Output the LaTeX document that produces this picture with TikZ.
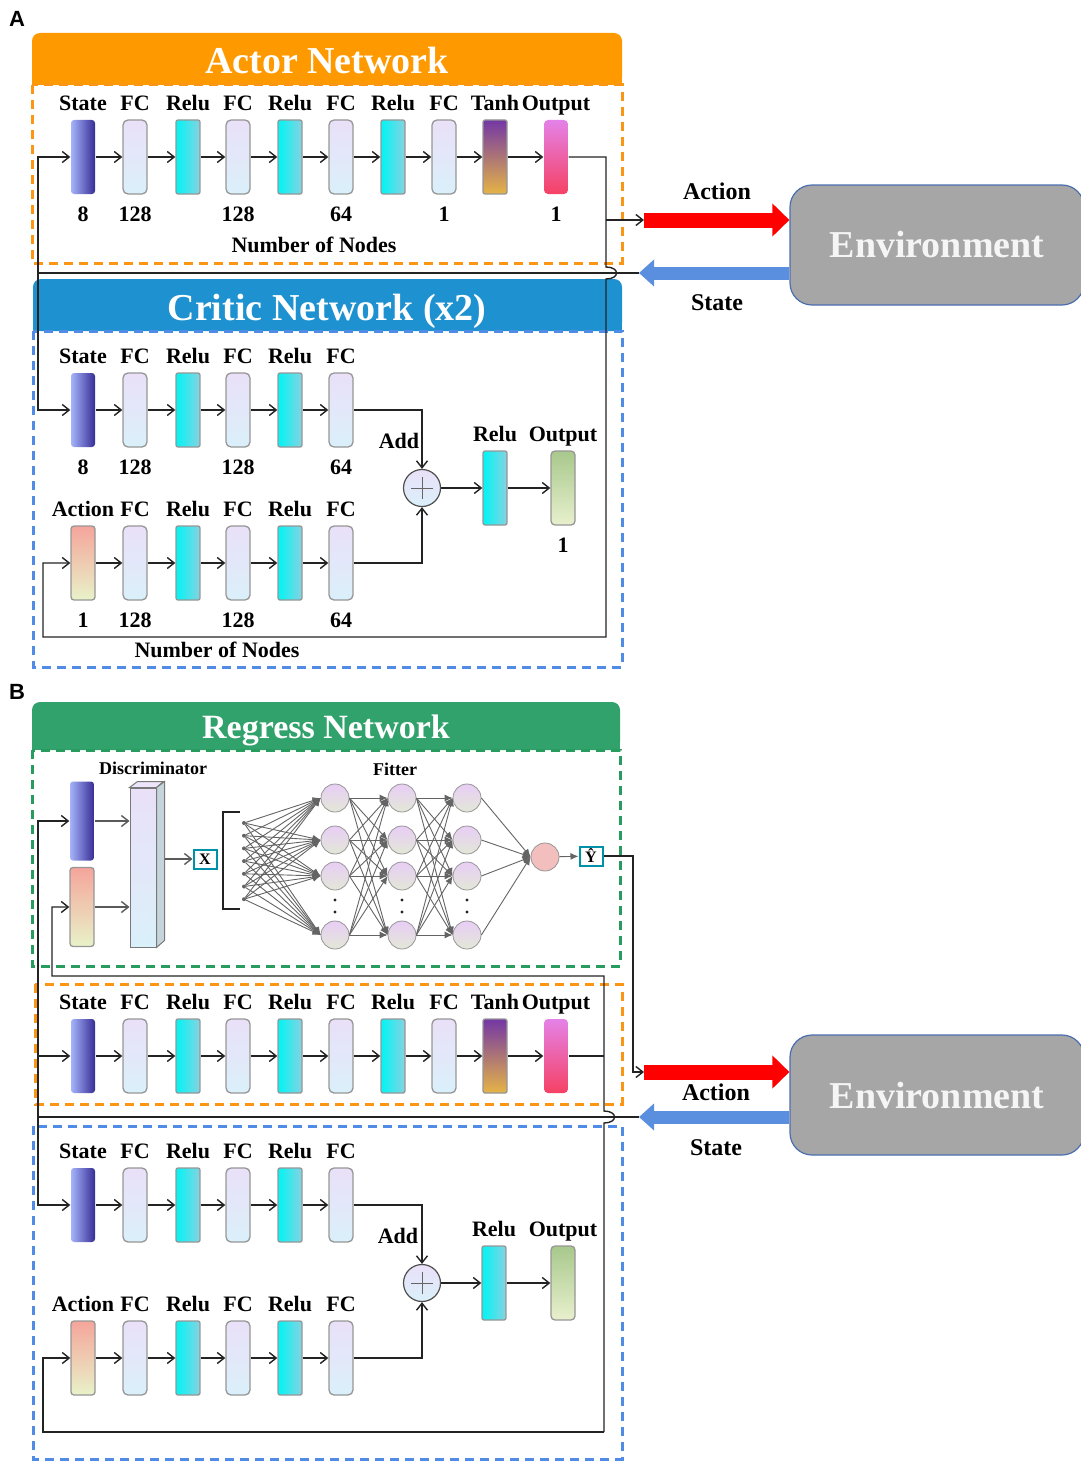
\documentclass[tikz,border=0pt]{standalone}
\usepackage{fontspec}
\setmainfont{Liberation Serif}
\newfontfamily\panelfont{Liberation Sans}
\usetikzlibrary{arrows.meta,calc,positioning}

\definecolor{actcol}{RGB}{255,153,0}
\definecolor{crtcol}{RGB}{30,146,208}
\definecolor{regcol}{RGB}{50,162,108}
\definecolor{envcol}{RGB}{166,166,166}
\definecolor{envbdr}{RGB}{75,110,175}
\definecolor{actred}{RGB}{255,0,0}
\definecolor{stblue}{RGB}{90,142,222}
\definecolor{dshblue}{RGB}{80,140,230}
\definecolor{dshgreen}{RGB}{40,155,95}
\definecolor{dshorange}{RGB}{250,150,20}
\definecolor{bdr}{RGB}{150,150,150}
\definecolor{wcol}{RGB}{35,35,35}
\definecolor{syncol}{RGB}{100,100,100}
\definecolor{xcol}{RGB}{0,145,170}
\definecolor{stL}{RGB}{165,180,250}
\definecolor{stR}{RGB}{55,45,150}
\definecolor{fcT}{RGB}{234,224,248}
\definecolor{fcB}{RGB}{218,240,250}
\definecolor{rlL}{RGB}{0,245,245}
\definecolor{rlR}{RGB}{135,210,225}
\definecolor{thT}{RGB}{115,55,165}
\definecolor{thB}{RGB}{230,180,70}
\definecolor{otT}{RGB}{228,130,232}
\definecolor{otB}{RGB}{245,65,100}
\definecolor{acT}{RGB}{245,165,155}
\definecolor{acB}{RGB}{232,242,200}
\definecolor{qT}{RGB}{168,200,140}
\definecolor{qB}{RGB}{232,240,205}
\definecolor{nuT}{RGB}{232,205,245}
\definecolor{nuB}{RGB}{226,232,215}
\definecolor{nuout}{RGB}{242,190,190}

\newcommand{\lbfont}{\fontsize{22}{24}\selectfont\bfseries}

\tikzset{
    >={Straight Barb[length=7pt,width=11pt]},
    wire/.style={draw=wcol, line width=1.4pt},
    arr/.style={wire, ->},
    blk/.style={rectangle, minimum width=24pt, minimum height=74pt, inner sep=0pt, line width=1.3pt},
    statebk/.style={blk, rounded corners=3pt, left color=stL, right color=stR},
    fcbk/.style={blk, rounded corners=5pt, draw=bdr, top color=fcT, bottom color=fcB},
    relubk/.style={blk, rounded corners=2pt, draw=bdr, left color=rlL, right color=rlR},
    tanhbk/.style={blk, rounded corners=2pt, draw=bdr, top color=thT, bottom color=thB},
    outbk/.style={blk, rounded corners=4pt, top color=otT, bottom color=otB},
    actbk/.style={blk, rounded corners=3pt, draw=bdr, top color=acT, bottom color=acB},
    qbk/.style={blk, rounded corners=4pt, draw=bdr, top color=qT, bottom color=qB},
    addnd/.style={circle, draw=wcol!80, line width=1.2pt, minimum size=37pt, inner sep=0pt, top color=fcT, bottom color=fcB},
    every label/.style={font=\lbfont, inner sep=0pt, text height=15pt, text depth=0pt},
    label distance=9pt,
    txt/.style={font=\lbfont, anchor=base, inner sep=0pt},
    big/.style={font=\fontsize{24}{26}\selectfont\bfseries},
    hdtxt/.style={text=white, font=\fontsize{38}{40}\selectfont\bfseries, anchor=base, inner sep=0pt},
    frm/.style={dash pattern=on 9pt off 6pt, line width=3pt},
    env/.style={rectangle, rounded corners=22pt, fill=envcol, draw=envbdr, line width=1.2pt, minimum width=294pt, minimum height=120pt, text=white!96!black, font=\fontsize{38}{40}\selectfont\bfseries},
    act/.style={actred, line width=15pt, -{Triangle[length=17pt,width=32pt]}},
    stt/.style={stblue, line width=13pt, -{Triangle[length=15pt,width=26pt]}},
    neu/.style={circle, draw=bdr, line width=0.8pt, minimum size=28pt, inner sep=0pt, top color=nuT, bottom color=nuB},
    syn/.style={draw=syncol, line width=0.9pt, -{Latex[length=8pt,width=7pt]}},
    dotnd/.style={circle, fill=syncol, minimum size=4pt, inner sep=0pt},
    xbox/.style={rectangle, draw=xcol, line width=2pt, fill=white, minimum width=23pt, minimum height=19pt, inner sep=1pt, font=\fontsize{16}{18}\selectfont\bfseries},
    pnl/.style={font=\panelfont\fontsize{22}{24}\selectfont\bfseries, anchor=base, inner sep=0pt}
}

\begin{document}
\begin{tikzpicture}[x=1pt, y=-1pt]
\useasboundingbox (0,0) rectangle (1081,1461);
\clip (0,0) rectangle (1081,1461);

%%% A
\node[pnl] (pa) at (17,27) {A};

% actor
\fill[actcol, rounded corners=8pt] (32,33) rectangle (622,85);
\fill[actcol] (32,60) rectangle (622,85);
\node[hdtxt] (h1) at (327,74) {Actor Network};
\draw[dshorange, frm] (32,85) rectangle (622,263);

\foreach \i/\x/\s/\t/\m in {1/83/statebk/State/8, 2/135/fcbk/FC/128, 3/188/relubk/Relu/{}, 4/238/fcbk/FC/128, 5/290/relubk/Relu/{}, 6/341/fcbk/FC/64, 7/393/relubk/Relu/{}, 8/444/fcbk/FC/1, 9/495/tanhbk/Tanh/{}, 10/556/outbk/Output/1}
    \node[\s, label=above:\t, label={[yshift=-3pt]below:\m}] (a\i) at (\x,157) {};
\foreach \i [count=\j from 2] in {1,...,9}
    \draw[arr] (a\i) -- (a\j);
\node[txt] (nn1) at (314,252) {Number of Nodes};

% environment
\node[env] (env1) at (937,245) {Environment};
\coordinate (ac1) at (644,220);
\coordinate (s1) at (639,273);
\draw[act] (ac1) -- (env1.west |- ac1);
\draw[stt] (env1.west |- s1) -- (s1);
\node[txt, big] (la1) at (717,199) {Action};
\node[txt, big] (ls1) at (717,310) {State};

% critic
\fill[crtcol, rounded corners=8pt] (33,279) rectangle (622,331);
\fill[crtcol] (33,305) rectangle (622,331);
\node[hdtxt] (h2) at (327,320) {Critic Network (x2)};
\draw[dshblue, frm] (33,331) rectangle (622,667);

\foreach \i/\x/\s/\t/\m in {1/83/statebk/State/8, 2/135/fcbk/FC/128, 3/188/relubk/Relu/{}, 4/238/fcbk/FC/128, 5/290/relubk/Relu/{}, 6/341/fcbk/FC/64}
    \node[\s, label=above:\t, label={[yshift=-3pt]below:\m}] (c\i) at (\x,410) {};
\foreach \i/\x/\s/\t/\m in {1/83/actbk/Action/1, 2/135/fcbk/FC/128, 3/188/relubk/Relu/{}, 4/238/fcbk/FC/128, 5/290/relubk/Relu/{}, 6/341/fcbk/FC/64}
    \node[\s, label=above:\t, label={[yshift=-3pt]below:\m}] (d\i) at (\x,563) {};
\node[addnd] (add1) at (422,488) {};
\draw[wcol!70, line width=1pt] ([xshift=-11pt]add1.center) -- ([xshift=11pt]add1.center)
    ([yshift=-11pt]add1.center) -- ([yshift=11pt]add1.center);
\node[relubk, label=above:Relu] (r1) at (495,488) {};
\node[qbk, label=above:Output, label={[yshift=-3pt]below:1}] (q1) at (563,488) {};
\node[txt] (ad1) at (399,448) {Add};
\node[txt] (nn2) at (217,657) {Number of Nodes};

\foreach \i [count=\j from 2] in {1,...,5} {
    \draw[arr] (c\i) -- (c\j);
    \draw[arr] (d\i) -- (d\j);
}
\draw[arr] (c6) -| (add1);
\draw[arr] (d6) -| (add1);
\draw[arr] (add1) -- (r1);
\draw[arr] (r1) -- (q1);

% loop between actor, critic and environment
\coordinate (j1) at (38,273);
\coordinate (br1) at (606,220);
\draw[wire] (s1) -- (j1);
\draw[arr] (j1) |- (a1);
\draw[arr] (j1) |- (c1);
\draw[arr] (a10) -- (606,157) -- (606,267) .. controls (620,267) and (620,279) .. (606,279)
    -- (606,637) -| (43,563) -- (d1);
\draw[arr] (br1) -- (ac1);

%%% B
\node[pnl] (pb) at (17,699) {B};

% regress
\fill[regcol, rounded corners=8pt] (32,702) rectangle (620,750);
\fill[regcol] (32,726) rectangle (620,750);
\node[hdtxt, font=\fontsize{34}{36}\selectfont\bfseries] (h3) at (326,738) {Regress Network};
\draw[dshgreen, frm] (32,750) rectangle (620,966);

\node[txt, font=\fontsize{18}{20}\selectfont\bfseries] (ld) at (153,774) {Discriminator};
\node[statebk, minimum height=79pt] (ds) at (82,821) {};
\node[actbk, minimum height=79pt] (da) at (82,907) {};
\node[fcbk, sharp corners, minimum width=26pt, minimum height=159pt, line width=1pt, draw=bdr!80!black] (dis) at (143,867.5) {};
\filldraw[fill=fcT!85!white, draw=bdr!80!black, line width=1pt] (dis.north west) -- ++(8,-6) -- ++(26,0) -- (dis.north east) -- cycle;
\filldraw[fill=fcB!70!bdr, draw=bdr!80!black, line width=1pt] (dis.north east) -- ++(8,-6) -- ++(0,159) -- (dis.south east) -- cycle;
\draw[arr, draw=wcol!75] (ds) -- (ds -| dis.west);
\draw[arr, draw=wcol!75] (da) -- (da -| dis.west);
\node[xbox] (xin) at (205,859) {X};
\draw[arr, draw=wcol!75] ($(dis.east |- xin)+(8,0)$) -- (xin);
\draw[line width=1.6pt, wcol] (240,812) -- (223,812) -- (223,909) -- (240,909);

\node[txt, font=\fontsize{18}{20}\selectfont\bfseries] (lf) at (395,775) {Fitter};
\foreach \i/\y in {1/798, 2/840, 3/876, 4/935} {
    \node[neu] (n1\i) at (335,\y) {};
    \node[neu] (n2\i) at (402,\y) {};
    \node[neu] (n3\i) at (467,\y) {};
}
\node[neu, top color=nuout, bottom color=nuout] (nout) at (545,857) {};
\foreach \k in {1,...,7}
    \node[dotnd] (p\k) at (244,{823+(\k-1)*12.7}) {};
\foreach \k in {1,...,7}
    \foreach \i in {1,...,4}
        \draw[syn] (p\k) -- (n1\i.west);
\foreach \i in {1,...,4}
    \foreach \j in {1,...,4} {
        \draw[syn] (n1\i.east) -- (n2\j.west);
        \draw[syn] (n2\i.east) -- (n3\j.west);
    }
\foreach \i in {1,...,4}
    \draw[syn] (n3\i.east) -- (nout.west);
\foreach \x in {335,402,467} {
    \fill[wcol] (\x,900) circle (1.6pt);
    \fill[wcol] (\x,912) circle (1.6pt);
}
\node[xbox] (yhat) at (591,856) {Ŷ};
\draw[syn] (nout) -- (yhat);

% actor
\draw[dshorange, frm] (35,984) rectangle (622,1104);
\foreach \i/\x/\s/\t in {1/83/statebk/State, 2/135/fcbk/FC, 3/188/relubk/Relu, 4/238/fcbk/FC, 5/290/relubk/Relu, 6/341/fcbk/FC, 7/393/relubk/Relu, 8/444/fcbk/FC, 9/495/tanhbk/Tanh, 10/556/outbk/Output}
    \node[\s, label=above:\t] (b\i) at (\x,1056) {};
\foreach \i [count=\j from 2] in {1,...,9}
    \draw[arr] (b\i) -- (b\j);

% environment
\node[env] (env2) at (937,1095) {Environment};
\coordinate (ac2) at (644,1072);
\coordinate (s2) at (639,1117);
\draw[act] (ac2) -- (env2.west |- ac2);
\draw[stt] (env2.west |- s2) -- (s2);
\node[txt, big] (la2) at (716,1100) {Action};
\node[txt, big] (ls2) at (716,1155) {State};

% critic
\draw[dshblue, frm] (33,1126) rectangle (622,1459);
\foreach \i/\x/\s/\t in {1/83/statebk/State, 2/135/fcbk/FC, 3/188/relubk/Relu, 4/238/fcbk/FC, 5/290/relubk/Relu, 6/341/fcbk/FC}
    \node[\s, label=above:\t] (e\i) at (\x,1205) {};
\foreach \i/\x/\s/\t in {1/83/actbk/Action, 2/135/fcbk/FC, 3/188/relubk/Relu, 4/238/fcbk/FC, 5/290/relubk/Relu, 6/341/fcbk/FC}
    \node[\s, label=above:\t] (f\i) at (\x,1358) {};
\node[addnd] (add2) at (422,1283) {};
\draw[wcol!70, line width=1pt] ([xshift=-11pt]add2.center) -- ([xshift=11pt]add2.center)
    ([yshift=-11pt]add2.center) -- ([yshift=11pt]add2.center);
\node[relubk, label=above:Relu] (r2) at (494,1283) {};
\node[qbk, label=above:Output] (q2) at (563,1283) {};
\node[txt] (ad2) at (398,1243) {Add};

\foreach \i [count=\j from 2] in {1,...,5} {
    \draw[arr] (e\i) -- (e\j);
    \draw[arr] (f\i) -- (f\j);
}
\draw[arr] (e6) -| (add2);
\draw[arr] (f6) -| (add2);
\draw[arr] (add2) -- (r2);
\draw[arr] (r2) -- (q2);

% loop between regress, actor, critic and environment
\coordinate (j2) at (38,1117);
\coordinate (k2) at (604,1432);
\draw[wire] (s2) -- (j2);
\draw[arr] (j2) |- (ds);
\draw[arr] (j2) |- (b1);
\draw[arr] (j2) |- (e1);
\draw[wire] (b10) -- (604,1056);
\draw[arr] (k2) -- (604,1123) .. controls (618,1123) and (618,1111) .. (604,1111)
    -- (604,976) -| (52,907) -- (da);
\draw[arr] (k2) -| (43,1358) -- (f1);
\draw[arr] (yhat) -- (633,856) |- (ac2);
\end{tikzpicture}
\end{document}
